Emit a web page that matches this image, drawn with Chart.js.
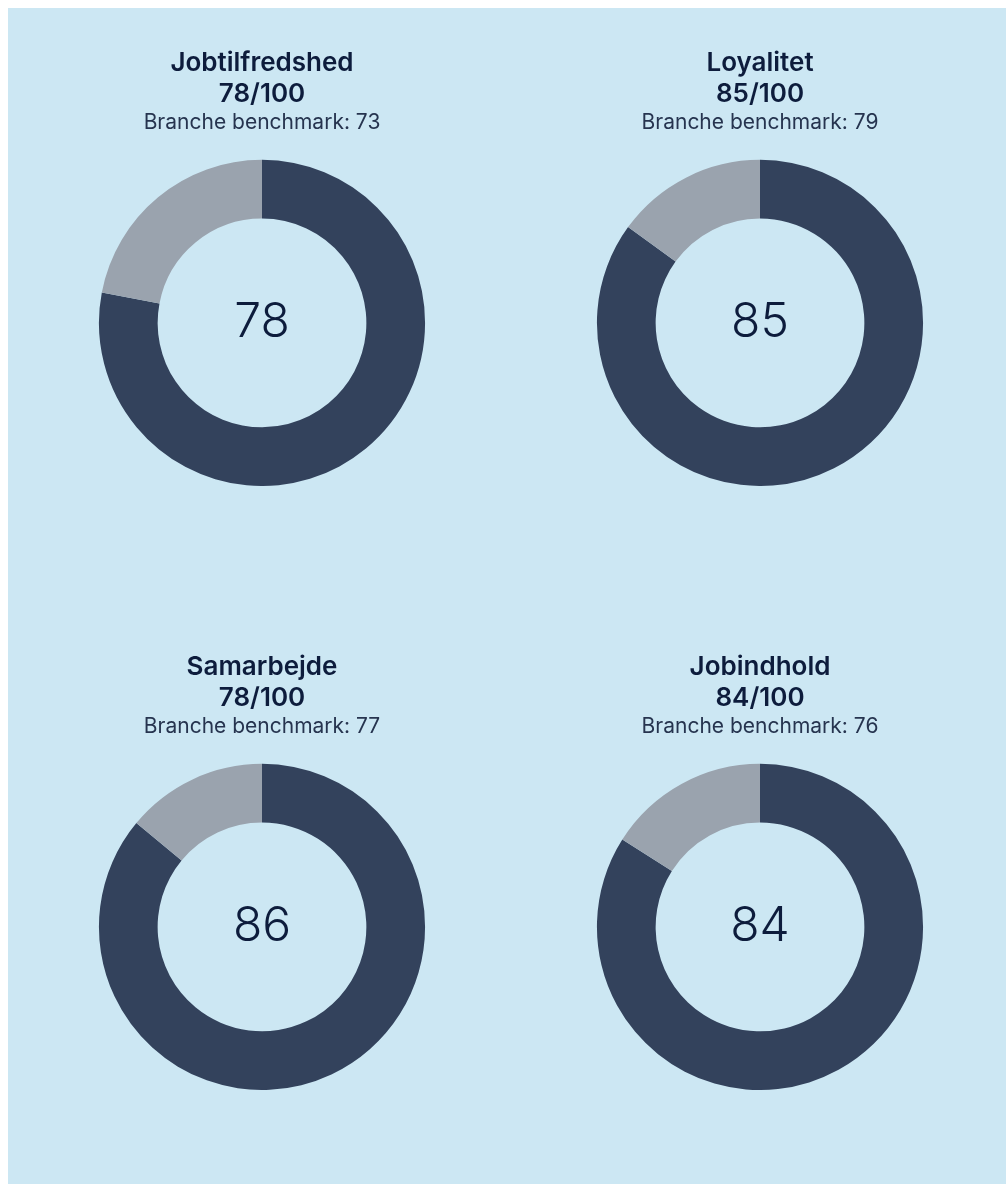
<!DOCTYPE html>
<html>
<head>
<meta charset="utf-8">
<script src="https://cdn.jsdelivr.net/npm/chart.js@4"></script>
<style>
  html, body { margin: 0; padding: 0; background: #fff; }
  #board {
    position: absolute; left: 8px; top: 8px; right: 0; bottom: 0;
    width: 998px; height: 1176px; background: #cce7f3;
  }
  .cell { position: absolute; width: 490px; height: 438px; }
</style>
</head>
<body>
<div id="board"></div>
<script>
// survey themes, score shown in the header, industry benchmark, and the value in the ring
let categories = ['Jobtilfredshed', 'Loyalitet', 'Samarbejde', 'Jobindhold'];
let headerScores = [78, 85, 78, 84];
let benchmarks = [73, 79, 77, 76];
let ringValues = [78, 85, 86, 84];
let maxScore = 100;

let darkColor = '#33425c';
let restColor = '#9aa3ae';
let textColor = '#0d1c3c';

// where each chart sits on the page (left, top)
let cellPos = [[17, 48], [515, 48], [17, 652], [515, 652]];

// writes the score in the hole of the ring
const centerText = {
    id: 'centerText',
    afterDraw(chart) {
        let ctx = chart.ctx;
        let area = chart.chartArea;
        let val = chart.data.datasets[0].data[0];
        ctx.save();
        ctx.font = '300 48px Inter';
        ctx.fillStyle = textColor;
        ctx.textAlign = 'center';
        ctx.textBaseline = 'alphabetic';
        ctx.fillText(String(val), (area.left + area.right) / 2, (area.top + area.bottom) / 2 + 14);
        ctx.restore();
    }
};

let board = document.getElementById('board');
for (let i = 0; i < categories.length; i++) {
    let cell = document.createElement('div');
    cell.className = 'cell';
    cell.style.left = (cellPos[i][0] - 8) + 'px';
    cell.style.top = (cellPos[i][1] - 8) + 'px';
    let cv = document.createElement('canvas');
    cv.width = 490;
    cv.height = 438;
    cell.appendChild(cv);
    board.appendChild(cell);

    new Chart(cv.getContext('2d'), {
        type: 'doughnut',
        data: {
            labels: ['Score', 'Rest'],
            datasets: [{
                data: [ringValues[i], maxScore - ringValues[i]],
                backgroundColor: [darkColor, restColor],
                borderWidth: 0
            }]
        },
        options: {
            responsive: false,
            animation: false,
            cutout: '64%',
            layout: { padding: 0 },
            plugins: {
                legend: { display: false },
                tooltip: { enabled: false },
                title: {
                    display: true,
                    text: [categories[i], headerScores[i] + '/' + maxScore],
                    color: textColor,
                    font: { family: 'Inter', size: 26, weight: '600', lineHeight: 1.19 },
                    padding: { top: 0, bottom: 0 }
                },
                subtitle: {
                    display: true,
                    text: 'Branche benchmark: ' + benchmarks[i],
                    color: '#26344f',
                    font: { family: 'Inter', size: 21, weight: '400', lineHeight: 1.19 },
                    padding: { top: 0, bottom: 25 }
                }
            }
        },
        plugins: [centerText]
    });
}
</script>
</body>
</html>
